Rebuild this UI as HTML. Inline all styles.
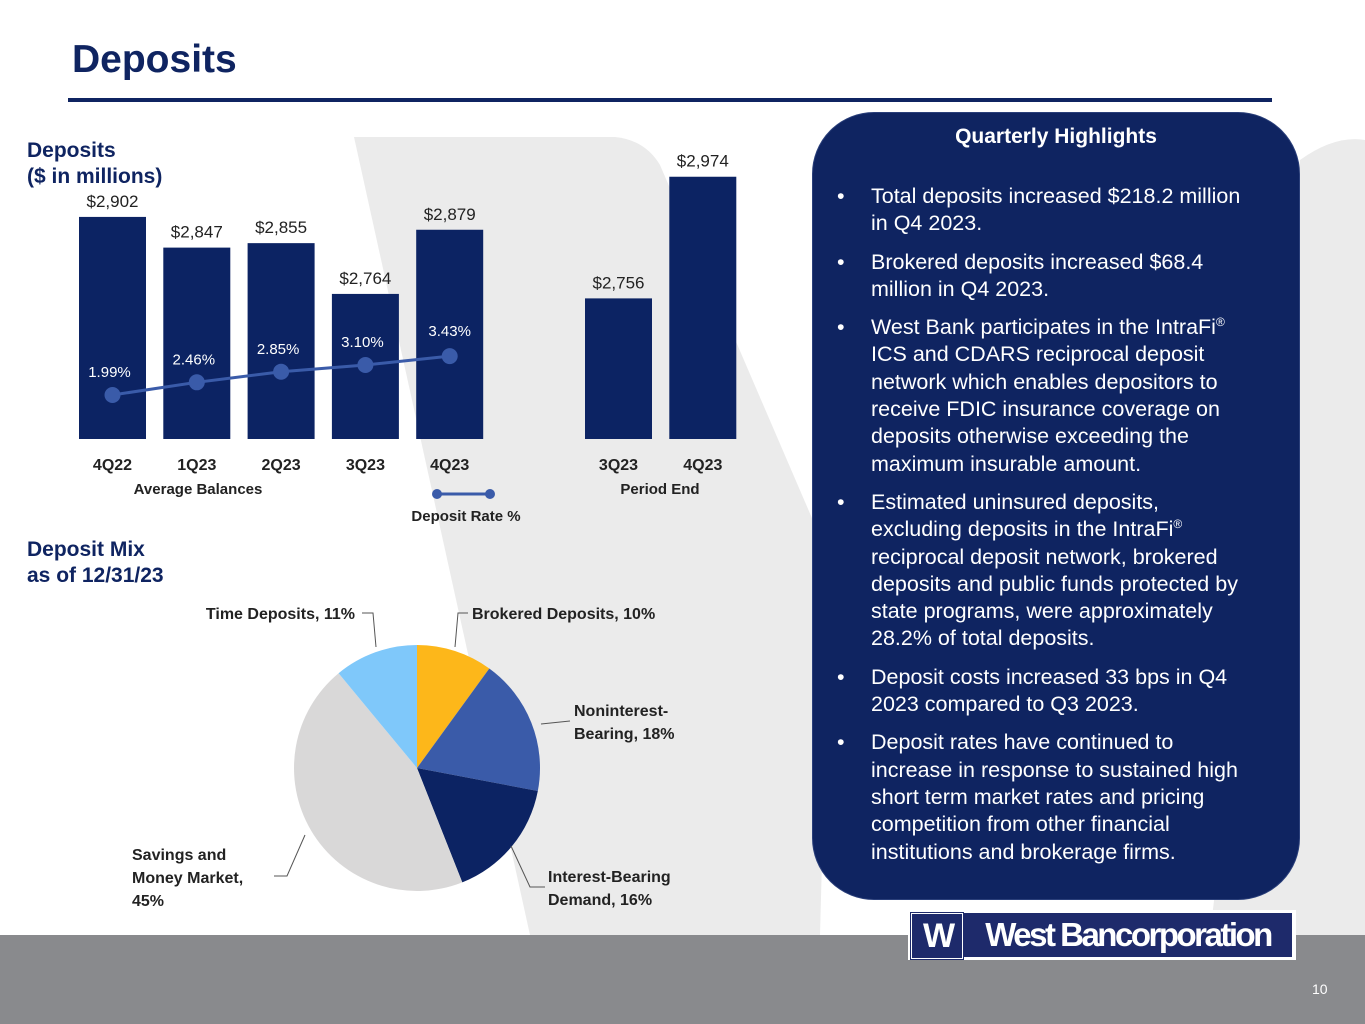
<!DOCTYPE html>
<html><head><meta charset="utf-8"><style>
body{margin:0;width:1365px;height:1024px;position:relative;overflow:hidden;background:#fff;font-family:"Liberation Sans",sans-serif;}
.abs{position:absolute;}
.panel{left:812px;top:112px;width:488px;height:788px;background:#0f2461;border-radius:62px;border:1px solid #2a3f7a;color:#fff;box-sizing:border-box;}
.panel h3{margin:0;position:absolute;top:12px;width:100%;text-align:center;font-size:21px;font-weight:bold;}
.panel ul{position:absolute;top:70px;left:20px;margin:0;padding:0;list-style:none;width:424px;}
.panel li{position:relative;padding-left:38px;font-size:21.5px;line-height:27.3px;margin-bottom:11px;}
.panel li:before{content:"•";position:absolute;left:4px;}
.nw{white-space:nowrap;}
sup{font-size:12px;line-height:0;}
</style></head><body>
<svg class="abs" style="left:0;top:0" width="1365" height="1024">
<path d="M354 137 L615 137 Q645 140 660 165 L830 560 L820 935 L530 935 Z" fill="#ebebeb"/>
<path d="M1300 160 Q1335 135 1365 140 L1365 935 L1210 935 Z" fill="#ebebeb"/>
<rect x="0" y="935" width="1365" height="89" fill="#898a8d"/>
<rect x="68" y="98" width="1204" height="4" fill="#0f2461"/>
</svg>
<div class="abs" style="left:72px;top:38px;font-size:39px;font-weight:bold;color:#0f2461;">Deposits</div>
<div class="abs" style="left:27px;top:138px;font-size:21px;font-weight:bold;color:#0f2461;line-height:26px;">Deposits<br>($ in millions)</div>
<div class="abs" style="left:27px;top:537px;font-size:21px;font-weight:bold;color:#0f2461;line-height:26px;">Deposit Mix<br>as of 12/31/23</div>

<svg id="chart" class="abs" style="left:0;top:0" width="800" height="935"></svg>

<div class="abs panel">
<h3>Quarterly Highlights</h3>
<ul>
<li>Total deposits increased $218.2 million in Q4 2023.</li>
<li>Brokered deposits increased $68.4 million in Q4 2023.</li>
<li>West Bank participates in the IntraFi<sup>®</sup> ICS and CDARS reciprocal deposit network which enables depositors to receive FDIC insurance coverage on deposits otherwise exceeding the maximum insurable amount.</li>
<li class="nw">Estimated uninsured deposits,<br>excluding deposits in the IntraFi<sup>®</sup><br>reciprocal deposit network, brokered<br>deposits and public funds protected by<br>state programs, were approximately<br>28.2% of total deposits.</li>
<li>Deposit costs increased 33 bps in Q4 2023 compared to Q3 2023.</li>
<li>Deposit rates have continued to increase in response to sustained high short term market rates and pricing competition from other financial institutions and brokerage firms.</li>
</ul></div>

<div class="abs" style="left:908px;top:910px;width:388px;height:50px;background:#fff;">
<div class="abs" style="left:3px;top:3px;width:50px;height:44px;background:#1e2a6b;border:1px solid #fff;box-shadow:0 0 0 1px #1e2a6b;color:#fff;font-weight:bold;font-size:34px;text-align:center;line-height:44px;letter-spacing:-4px;">W</div>
<div class="abs" style="left:56px;top:3px;width:328px;height:44px;background:#1e2a6b;color:#fff;font-weight:bold;font-size:33px;line-height:44px;letter-spacing:-2.5px;text-align:center;">West Bancorporation</div>
</div>
<div class="abs" style="left:1312px;top:981px;font-size:14px;color:#fff;">10</div>

<script>
const avgCats=["4Q22","1Q23","2Q23","3Q23","4Q23"];
const avgVals=[2902,2847,2855,2764,2879];
const avgLabels=["$2,902","$2,847","$2,855","$2,764","$2,879"];
const rateVals=[1.99,2.46,2.85,3.10,3.43];
const rateLabels=["1.99%","2.46%","2.85%","3.10%","3.43%"];
const endCats=["3Q23","4Q23"];
const endVals=[2756,2974];
const endLabels=["$2,756","$2,974"];
const pieCats=["Brokered Deposits","Noninterest-Bearing","Interest-Bearing Demand","Savings and Money Market","Time Deposits"];
const pieVals=[10,18,16,45,11];
const pieColors=["#fdb71a","#3a5ba9","#0c2363","#d9d8d8","#7fc8fa"];

const NS="http://www.w3.org/2000/svg";
const svg=document.getElementById('chart');
function mk(t,a,txt){const e=document.createElementNS(NS,t);for(const k in a)e.setAttribute(k,a[k]);if(txt!=null)e.textContent=txt;svg.appendChild(e);return e;}
const base=439,vMin=2504,pxPer=0.558;
const y=v=>base-(v-vMin)*pxPer;
const yr=v=>395-(v-1.99)*27;
const bw=67;
function bars(cats,vals,labels,x0,name){
 cats.forEach((c,i)=>{
  const cx=x0+i*84.3;
  const r=mk('rect',{x:cx-bw/2,y:y(vals[i]),width:bw,height:base-y(vals[i]),fill:'#0c2363'});
  
  
  mk('text',{x:cx,y:y(vals[i])-10,'text-anchor':'middle','font-size':17,fill:'#222','font-family':'Liberation Sans'},labels[i]);
  mk('text',{x:cx,y:470,'text-anchor':'middle','font-size':16,'font-weight':'bold',fill:'#222','font-family':'Liberation Sans'},c);
 });
}
bars(avgCats,avgVals,avgLabels,112.5,'average');
bars(endCats,endVals,endLabels,618.5,'period-end');
mk('text',{x:198,y:494,'text-anchor':'middle','font-size':15,'font-weight':'bold',fill:'#222'},'Average Balances');
mk('text',{x:660,y:494,'text-anchor':'middle','font-size':15,'font-weight':'bold',fill:'#222'},'Period End');
const pts=rateVals.map((v,i)=>[112.5+i*84.3,yr(v)]);
const pl=mk('polyline',{points:pts.map(p=>p.join(',')).join(' '),fill:'none',stroke:'#3a5ba9','stroke-width':3});


pts.forEach((p,i)=>{
 const c=mk('circle',{cx:p[0],cy:p[1],r:8,fill:'#3a5ba9'});
 
 
 mk('text',{x:p[0]-(i==4?0:3),y:p[1]-(i==4?20:18),'text-anchor':'middle','font-size':15,fill:'#fff'},rateLabels[i]);
});
mk('line',{x1:437,y1:494,x2:490,y2:494,stroke:'#3a5ba9','stroke-width':3});
mk('circle',{cx:437,cy:494,r:5,fill:'#3a5ba9'});mk('circle',{cx:490,cy:494,r:5,fill:'#3a5ba9'});
mk('text',{x:466,y:521,'text-anchor':'middle','font-size':15,'font-weight':'bold',fill:'#222'},'Deposit Rate  %');
// pie
const pcx=417,pcy=768,pr=123;
const tot=pieVals.reduce((a,b)=>a+b,0);
let ang=-Math.PI/2;
pieVals.forEach((v,i)=>{
 const a2=ang+v/tot*2*Math.PI;
 const x1=pcx+pr*Math.cos(ang),y1=pcy+pr*Math.sin(ang),x2=pcx+pr*Math.cos(a2),y2=pcy+pr*Math.sin(a2);
 const p=mk('path',{d:`M${pcx},${pcy} L${x1},${y1} A${pr},${pr} 0 ${a2-ang>Math.PI?1:0} 1 ${x2},${y2} Z`,fill:pieColors[i]});
 
 
 ang=a2;
});
const lab=(x,yy,lines,anchor)=>lines.forEach((l,j)=>mk('text',{x:x,y:yy+j*23,'text-anchor':anchor,'font-size':16,'font-weight':'bold',fill:'#222'},l));
lab(355,619,["Time Deposits, 11%"],'end');
lab(472,619,["Brokered Deposits, "+pieVals[0]+"%"],'start');
lab(574,716,["Noninterest-","Bearing, 18%"],'start');
lab(548,882,["Interest-Bearing","Demand, 16%"],'start');
lab(132,860,["Savings and","Money Market,","45%"],'start');
const ln=d=>mk('path',{d:d,fill:'none',stroke:'#555','stroke-width':1});
ln('M362 613 L373 613 L376 647');ln('M468 613 L458 613 L455 647');
ln('M570 721 L541 724');ln('M545 887 L530 887 L511 846');ln('M274 876 L287 876 L305 835');
</script>
</body></html>
